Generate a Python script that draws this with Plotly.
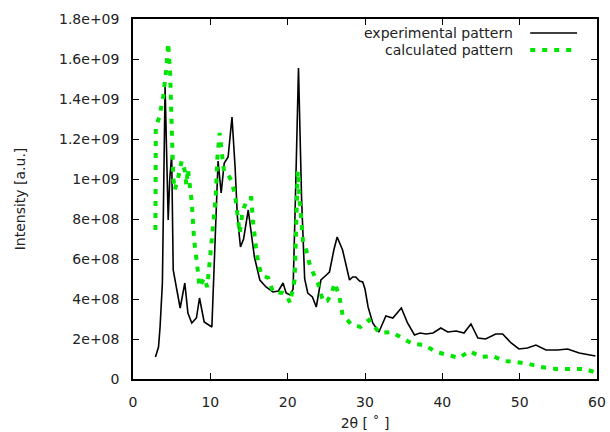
import plotly.graph_objects as go

# ---- data (x = 2theta in degrees, y = intensity in units of 1e8) ----
exp_x = [2.9, 3.3, 3.5, 3.8, 3.95, 4.15, 4.55, 4.75, 5.0, 5.2, 5.6, 6.1, 6.7, 7.1, 7.6, 8.2,
         8.6, 9.2, 10.2, 10.4, 11.0, 11.4, 11.8, 12.3, 12.8, 13.2, 13.5, 13.9, 14.3, 14.9,
         15.3, 15.7, 16.4, 16.6, 17.2, 18.1, 18.8, 19.4, 19.8, 20.3, 20.7, 21.0, 21.4, 21.8,
         22.2, 22.6, 23.2, 23.7, 24.3, 25.0, 25.4, 26.0, 26.4, 27.1, 28.0, 28.4, 28.8, 29.3,
         29.7, 30.0, 30.4, 31.0, 31.8, 32.7, 33.6, 34.7, 35.5, 36.4, 37.1, 37.9, 38.8, 39.8,
         40.7, 41.8, 42.8, 43.7, 44.6, 45.6, 46.9, 47.8, 48.9, 49.9, 51.0, 52.1, 53.4, 54.9,
         56.2, 57.7, 59.8]
exp_y = [1.1, 1.6, 2.6, 4.8, 9.0, 14.6, 7.95, 10.0, 11.2, 5.45, 4.6, 3.55, 4.8, 3.3, 2.8, 3.05,
         4.05, 2.85, 2.6, 4.95, 10.9, 9.3, 10.8, 11.1, 13.1, 10.6, 8.1, 6.6, 7.0, 8.45,
         7.3, 6.1, 4.95, 4.85, 4.6, 4.35, 4.4, 4.8, 4.3, 4.2, 4.5, 9.0, 15.55, 9.0,
         5.0, 4.3, 4.1, 3.6, 4.95, 5.2, 5.35, 6.5, 7.1, 6.45, 4.95, 5.1, 5.1, 4.9,
         4.85, 4.5, 3.6, 2.8, 2.35, 3.15, 3.05, 3.55, 2.8, 2.2, 2.3, 2.25, 2.3, 2.55,
         2.35, 2.4, 2.3, 2.75, 2.05, 2.0, 2.25, 2.25, 1.8, 1.5, 1.55, 1.7, 1.45, 1.45,
         1.5, 1.3, 1.15]

calc_x = [2.9, 2.95, 3.4, 3.9, 4.3, 4.55, 4.8, 5.0, 5.1, 5.2, 5.4, 5.8, 6.3, 6.7, 6.9, 7.1,
          7.6, 7.9, 8.3, 8.6, 9.2, 9.6, 9.9, 10.4, 10.7, 10.9, 11.2, 11.4, 11.8, 12.3, 12.7,
          13.2, 13.4, 13.8, 14.2, 14.9, 15.3, 15.5, 15.9, 16.2, 16.6, 17.5, 18.1, 18.7, 19.4,
          20.0, 20.3, 20.9, 21.0, 21.3, 21.4, 21.5, 21.8, 22.0, 22.4, 22.8, 23.3, 23.9, 24.6,
          25.1, 25.6, 26.1, 26.7, 27.1, 28.2, 29.4, 30.5, 31.9, 33.4, 34.9, 36.2, 37.7, 39.2,
          40.7, 42.2, 43.5, 45.0, 46.5, 48.0, 49.5, 51.2, 52.7, 54.7, 57.3, 58.5, 59.9]
calc_y = [7.45, 12.6, 13.1, 14.1, 15.5, 16.8, 15.3, 13.3, 11.8, 10.1, 9.45, 10.0, 10.9, 10.4, 9.7, 10.5,
          8.85, 6.95, 5.7, 4.6, 5.05, 4.6, 5.8, 7.6, 9.1, 11.0, 12.3, 11.6, 10.3, 10.2, 9.95,
          9.2, 8.6, 7.3, 8.45, 9.05, 9.05, 7.95, 6.6, 5.8, 5.2, 5.05, 4.35, 4.35, 4.3,
          4.1, 3.8, 4.95, 6.6, 10.3, 10.4, 9.1, 7.8, 6.8, 6.45, 5.8, 5.3, 4.8, 3.85,
          3.9, 4.2, 4.8, 4.1, 3.2, 2.75, 2.6, 2.95, 2.3, 2.35, 2.05, 1.75, 1.7, 1.35,
          1.2, 1.05, 1.4, 1.1, 1.15, 0.9, 0.85, 0.75, 0.6, 0.5, 0.5, 0.5, 0.3]

series_names = ["experimental pattern", "calculated pattern"]

x_tickvals = [0, 10, 20, 30, 40, 50, 60]
y_tickvals = [0, 2e8, 4e8, 6e8, 8e8, 1e9, 1.2e9, 1.4e9, 1.6e9, 1.8e9]
y_ticktext = ["0", "2e+08", "4e+08", "6e+08", "8e+08", "1e+09", "1.2e+09", "1.4e+09", "1.6e+09", "1.8e+09"]

SCALE = 1e8
BLACK = "#000000"
GREEN = "#00e600"
TXT = "#222222"
FONT = "DejaVu Sans, sans-serif"
FS = 14

fig = go.Figure()
fig.add_trace(go.Scatter(x=exp_x, y=[v * SCALE for v in exp_y], mode="lines",
                         name=series_names[0], line=dict(color=BLACK, width=1.6)))
fig.add_trace(go.Scatter(x=calc_x, y=[v * SCALE for v in calc_y], mode="lines",
                         name=series_names[1], line=dict(color=GREEN, width=4, dash="5px,7px")))

axis_common = dict(showline=True, linecolor=BLACK, linewidth=1.5, mirror="ticks",
                   ticks="inside", ticklen=6, tickcolor=BLACK, tickwidth=1,
                   showgrid=False, zeroline=False,
                   tickfont=dict(family=FONT, size=FS, color=TXT))

fig.update_xaxes(range=[0, 60], tickvals=x_tickvals, ticklabelstandoff=9,
                 title=dict(text="2θ [ ˚ ]", font=dict(family=FONT, size=FS, color=TXT), standoff=10),
                 **axis_common)
fig.update_yaxes(range=[0, 1.8e9], tickvals=y_tickvals, ticktext=y_ticktext, ticklabelstandoff=9,
                 title=dict(text="Intensity [a.u.]", font=dict(family=FONT, size=FS, color=TXT), standoff=30),
                 **axis_common)

# legend drawn gnuplot-style: right-aligned text with sample to its right
legend_y = [0.961, 0.914]
styles = [dict(color=BLACK, width=1.6), dict(color=GREEN, width=4, dash="5px,7px")]
for name, ly, st in zip(series_names, legend_y, styles):
    fig.add_annotation(x=0.823, y=ly, xref="paper", yref="paper", text=name, showarrow=False,
                       xanchor="right", yanchor="middle",
                       font=dict(family=FONT, size=FS, color=TXT))
    fig.add_shape(type="line", xref="paper", yref="paper", x0=0.856, x1=0.957, y0=ly, y1=ly,
                  line=st)

fig.update_layout(width=610, height=432, showlegend=False,
                  margin=dict(l=133, r=13, t=19, b=53, autoexpand=False),
                  plot_bgcolor="white", paper_bgcolor="white")

fig.write_html("out.html", config={"displayModeBar": False},
               post_script="document.body.style.margin='0px';document.body.style.overflow='hidden';")
